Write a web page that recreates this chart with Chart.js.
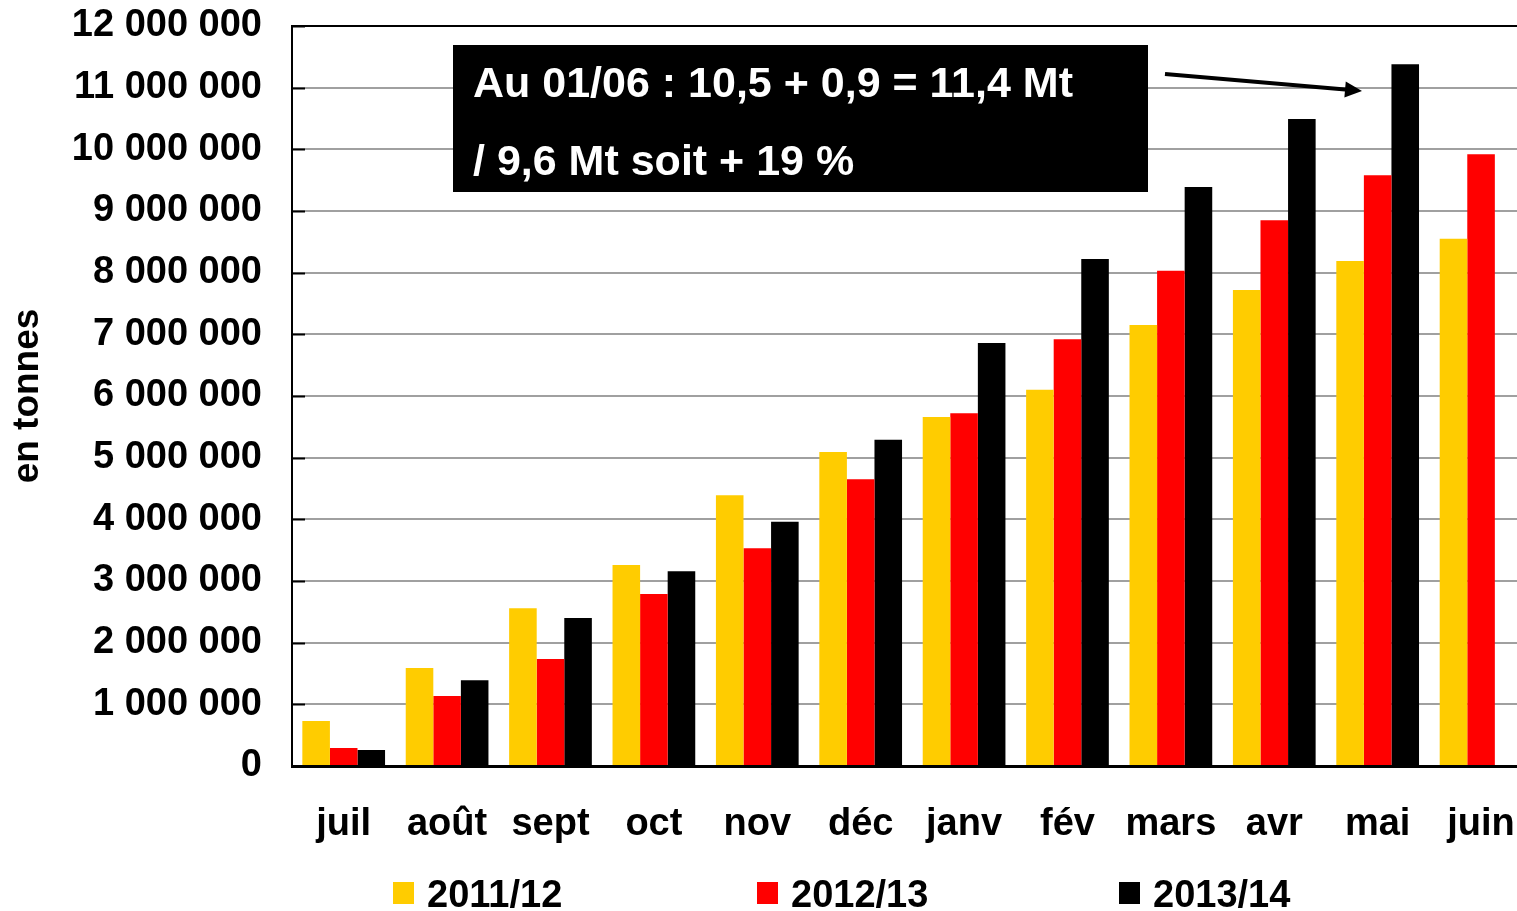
<!DOCTYPE html>
<html>
<head>
<meta charset="utf-8">
<script src="https://cdn.jsdelivr.net/npm/chart.js@4.4.1/dist/chart.umd.min.js"></script>
<style>
  html, body { margin: 0; padding: 0; background: #fff; overflow: hidden; }
  canvas { display: block; }
</style>
</head>
<body>
<canvas id="chart" width="1551" height="911"></canvas>
<script>
const months = ['juil', 'août', 'sept', 'oct', 'nov', 'déc', 'janv', 'fév', 'mars', 'avr', 'mai', 'juin'];
const seasons = ['2011/12', '2012/13', '2013/14'];
const colors = ['#FFCC00', '#FF0000', '#000000'];

// cumulative tonnage
const s2011 = [730000, 1590000, 2560000, 3260000, 4390000, 5090000, 5660000, 6100000, 7150000, 7720000, 8190000, 8550000];
const s2012 = [290000, 1135000, 1735000, 2790000, 3530000, 4650000, 5720000, 6920000, 8030000, 8850000, 9580000, 9920000];
const s2013 = [260000, 1390000, 2400000, 3160000, 3960000, 5290000, 6860000, 8220000, 9390000, 10490000, 11380000, null];

const noteLines = ['Au 01/06 : 10,5 + 0,9 = 11,4 Mt', '/ 9,6 Mt soit + 19 %'];

const FONT = "'Liberation Sans', Arial, sans-serif";

function fmtThousands(v) {
  return String(v).replace(/\B(?=(\d{3})+(?!\d))/g, ' ');
}

// inward tick marks on the value axis, the note box with its arrow, and the legend
const decorPlugin = {
  id: 'decor',
  afterDatasetsDraw(chart) {
    const { ctx, chartArea, scales: { y } } = chart;
    ctx.save();
    ctx.strokeStyle = '#000';
    ctx.lineWidth = 2;
    for (const tick of y.ticks) {
      const py = Math.round(y.getPixelForValue(tick.value)) + 0.5;
      ctx.beginPath();
      ctx.moveTo(chartArea.left, py);
      ctx.lineTo(chartArea.left + 13, py);
      ctx.stroke();
    }
    ctx.restore();
  },
  afterDraw(chart) {
    const { ctx } = chart;
    ctx.save();

    // note box
    ctx.fillStyle = '#000';
    ctx.fillRect(453, 45, 695, 147);
    ctx.fillStyle = '#fff';
    ctx.font = `bold 43px ${FONT}`;
    ctx.textBaseline = 'middle';
    ctx.textAlign = 'left';
    ctx.fillText(noteLines[0], 473, 85);
    ctx.fillText(noteLines[1], 473, 163);

    // arrow
    const x0 = 1165, y0 = 74, x1 = 1362, y1 = 91;
    const ang = Math.atan2(y1 - y0, x1 - x0);
    ctx.strokeStyle = '#000';
    ctx.lineWidth = 4;
    ctx.beginPath();
    ctx.moveTo(x0, y0);
    ctx.lineTo(x1 - 14 * Math.cos(ang), y1 - 14 * Math.sin(ang));
    ctx.stroke();
    ctx.fillStyle = '#000';
    ctx.beginPath();
    ctx.moveTo(x1, y1);
    ctx.lineTo(x1 - 17 * Math.cos(ang) + 8 * Math.sin(ang), y1 - 17 * Math.sin(ang) - 8 * Math.cos(ang));
    ctx.lineTo(x1 - 17 * Math.cos(ang) - 8 * Math.sin(ang), y1 - 17 * Math.sin(ang) + 8 * Math.cos(ang));
    ctx.closePath();
    ctx.fill();

    // legend
    const starts = [393, 757, 1119];
    ctx.font = `bold 38px ${FONT}`;
    chart.data.datasets.forEach((ds, i) => {
      ctx.fillStyle = ds.backgroundColor;
      ctx.fillRect(starts[i], 882, 21, 22);
      ctx.fillStyle = '#000';
      ctx.fillText(ds.label, starts[i] + 34, 897);
    });
    ctx.restore();
  }
};

new Chart(document.getElementById('chart'), {
  type: 'bar',
  data: {
    labels: months,
    datasets: [
      { label: seasons[0], data: s2011, backgroundColor: colors[0] },
      { label: seasons[1], data: s2012, backgroundColor: colors[1] },
      { label: seasons[2], data: s2013, backgroundColor: colors[2] },
    ],
  },
  options: {
    responsive: false,
    animation: false,
    layout: { padding: { top: 26, right: 4, bottom: 0, left: 0 } },
    datasets: { bar: { categoryPercentage: 0.8, barPercentage: 1.0, borderWidth: 0 } },
    plugins: {
      legend: { display: false },
      tooltip: { enabled: false },
    },
    scales: {
      x: {
        grid: { display: false, drawTicks: false },
        border: { display: true, color: '#000', width: 3 },
        ticks: { color: '#000', padding: 36, font: { family: FONT, size: 38, weight: 'bold' }, maxRotation: 0, autoSkip: false },
        afterFit: scale => { scale.height = 145; },
      },
      y: {
        min: 0,
        max: 12000000,
        grid: {
          drawTicks: false,
          lineWidth: 2,
          color: ctx => (ctx.tick && ctx.tick.value === 12000000 ? '#000' : '#a0a0a0'),
        },
        border: { display: true, color: '#000', width: 2 },
        ticks: {
          stepSize: 1000000,
          color: '#000',
          padding: 30,
          font: { family: FONT, size: 38, weight: 'bold' },
          callback: v => fmtThousands(v),
        },
        title: {
          display: true,
          text: 'en tonnes',
          color: '#000',
          padding: { top: 6, bottom: 0 },
          font: { family: FONT, size: 37, weight: 'bold' },
        },
        afterFit: scale => {
          scale.width = 292;
          scale.paddingTop = 0;
        },
      },
    },
  },
  plugins: [decorPlugin],
});
</script>
</body>
</html>
